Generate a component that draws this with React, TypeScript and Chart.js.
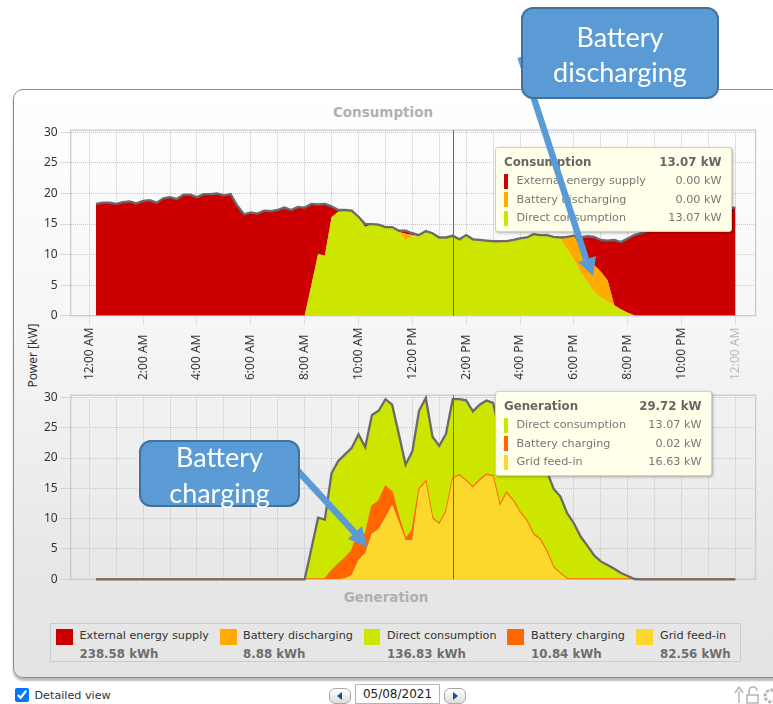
import React, { useEffect, useRef } from "react";
import { Chart, registerables } from "chart.js";

Chart.register(...registerables);

// Quarter-hour samples, 00:15 .. 24:00
const sampleHours = Array.from({ length: 96 }, (_, i) => 0.25 + i * 0.25);

const externalSupply = [
  18.3, 18.5, 18.5, 18.3, 18.6, 18.7, 18.4, 18.8, 18.9, 18.5, 19.2, 19.4, 19.1, 19.8, 19.8, 19.4,
  19.9, 19.9, 20.0, 19.7, 19.9, 18.0, 16.6, 16.9, 16.7, 17.2, 17.1, 17.3, 17.7, 17.3, 17.8, 17.7,
  13.3, 8.1, 8.5, 1.8, 0.3, 0.2, 0.2, 0.2, 0.5, 0, 0, 0.1, 0.1, 0.2, 0.5, 0.3,
  0.2, 0.1, 0.1, 0, 0, 0, 0, 0, 0, 0, 0.1, 0.2, 0.2, 0.1, 0.1, 0.05,
  0, 0, 0, 0, 0, 0, 0, 0, 1.8, 3.9, 4.6, 5.2, 6.5, 10.7, 11.05, 12.15,
  13.15, 13.5, 14.0, 14.5, 15.0, 15.4, 15.8, 16.1, 16.4, 16.6, 16.9, 17.1, 17.3, 17.4, 17.6, 17.7,
];
const batteryDischarging = [
  0, 0, 0, 0, 0, 0, 0, 0, 0, 0, 0, 0, 0, 0, 0, 0,
  0, 0, 0, 0, 0, 0, 0, 0, 0, 0, 0, 0, 0, 0, 0, 0,
  0, 0, 0, 0, 0, 0, 0, 0, 0, 0, 0, 0, 0, 0, 1.1, 0.2,
  0.1, 0, 0, 0, 0, 0, 0, 0, 0, 0, 0, 0, 0, 0, 0, 0,
  0, 0, 0, 0, 0, 0.15, 2.1, 3.9, 4.0, 3.6, 4.4, 4.3, 3.5, 0, 0, 0,
  0, 0, 0, 0, 0, 0, 0, 0, 0, 0, 0, 0, 0, 0, 0, 0,
];
const directConsumption = [
  0, 0, 0, 0, 0, 0, 0, 0, 0, 0, 0, 0, 0, 0, 0, 0,
  0, 0, 0, 0, 0, 0, 0, 0, 0, 0, 0, 0, 0, 0, 0, 0,
  5.0, 10.1, 9.8, 16.1, 17.0, 17.1, 17.0, 16.0, 14.5, 15.0, 14.9, 14.4, 14.4, 13.7, 12.3, 13.0,
  12.9, 13.75, 13.4, 12.8, 12.8, 13.07, 12.5, 13.2, 12.5, 12.4, 12.2, 12.0, 12.0, 12.1, 12.3, 12.6,
  12.8, 13.35, 13.2, 13.2, 12.9, 12.65, 10.8, 9.2, 7.0, 5.5, 3.9, 2.9, 2.3, 1.7, 1.0, 0.5,
  0.05, 0, 0, 0, 0, 0, 0, 0, 0, 0, 0, 0, 0, 0, 0, 0,
];
const batteryCharging = [
  0, 0, 0, 0, 0, 0, 0, 0, 0, 0, 0, 0, 0, 0, 0, 0,
  0, 0, 0, 0, 0, 0, 0, 0, 0, 0, 0, 0, 0, 0, 0, 0,
  0.05, 0.05, 0.05, 1.4, 2.5, 3.35, 4.0, 4.7, 3.0, 4.6, 4.6, 5.1, 2.1, 0.8, 0.1, 1.7,
  0.1, 0.1, 0.1, 0.1, 0.1, 0.02, 0.1, 0.1, 0.1, 0.1, 0.1, 0.1, 0.1, 0.1, 0.1, 0.1,
  0.1, 0.1, 0.1, 0.1, 0.1, 0.1, 0.05, 0.05, 0.05, 0.05, 0.05, 0.05, 0.05, 0.05, 0.05, 0.05,
  0, 0, 0, 0, 0, 0, 0, 0, 0, 0, 0, 0, 0, 0, 0, 0,
];
const gridFeedIn = [
  0, 0, 0, 0, 0, 0, 0, 0, 0, 0, 0, 0, 0, 0, 0, 0,
  0, 0, 0, 0, 0, 0, 0, 0, 0, 0, 0, 0, 0, 0, 0, 0,
  0, 0, 0, 0, 0, 0.15, 0.7, 3.2, 4.3, 7.5, 8.3, 10.2, 12.3, 9.4, 6.5, 6.4,
  14.8, 16.05, 10.0, 9.1, 11.1, 16.63, 17.1, 16.2, 15.1, 16.3, 17.2, 17.0, 12.1, 14.2, 12.9, 11.0,
  9.6, 7.4, 6.5, 4.5, 1.9, 0.9, 0.05, 0, 0, 0, 0, 0, 0, 0, 0, 0,
  0, 0, 0, 0, 0, 0, 0, 0, 0, 0, 0, 0, 0, 0, 0, 0,
];

const tickHours = [0, 2, 4, 6, 8, 10, 12, 14, 16, 18, 20, 22, 24];
const tickLabels = [
  "12:00 AM", "2:00 AM", "4:00 AM", "6:00 AM", "8:00 AM", "10:00 AM", "12:00 PM",
  "2:00 PM", "4:00 PM", "6:00 PM", "8:00 PM", "10:00 PM", "12:00 AM",
];
const gridHours = Array.from({ length: 25 }, (_, i) => i);
const powerTicks = [0, 5, 10, 15, 20, 25, 30];
const cursorIndex = 53;

const legendNames = [
  "External energy supply", "Battery discharging", "Direct consumption", "Battery charging", "Grid feed-in",
];
const legendEnergy = ["238.58 kWh", "8.88 kWh", "136.83 kWh", "10.84 kWh", "82.56 kWh"];

const RED = "#cc0000";
const AMBER = "#ffab00";
const LIME = "#cce600";
const ORANGE = "#ff6600";
const YELLOW = "#fdd82c";
const legendColors = [RED, AMBER, LIME, ORANGE, YELLOW];
const legendSwatchX = [56, 220, 363.5, 507, 636];
const legendTextX = [79.5, 243, 387, 531, 660];

const FONT = '"Noto Sans", sans-serif';
const PANEL_FONT = '"DejaVu Sans", sans-serif';
const LINE = "#6a6a6a";
const FRAME = "#c3cdd6";

const sumOf = (a: number[], b: number[], c: number[]) => a.map((v, i) => +(v + b[i] + c[i]).toFixed(2));

const framePlugin = {
  id: "frameAndCursor",
  beforeDatasetsDraw(chart: any) {
    const { ctx, chartArea: a } = chart;
    ctx.save();
    ctx.strokeStyle = FRAME;
    ctx.lineWidth = 1.3;
    ctx.strokeRect(a.left, a.top, a.right - a.left, a.bottom - a.top);
    ctx.restore();
  },
  afterDraw(chart: any) {
    const { ctx, chartArea: a, scales } = chart;
    ctx.save();
    const x = scales.x.getPixelForValue(sampleHours[cursorIndex]);
    ctx.strokeStyle = "#666";
    ctx.lineWidth = 1;
    ctx.beginPath();
    ctx.moveTo(Math.round(x) + 0.5, a.top);
    ctx.lineTo(Math.round(x) + 0.5, a.bottom);
    ctx.stroke();
    ctx.restore();
  },
};

function area(label: string, data: number[], color: string, fill: string, extra: any = {}) {
  return {
    label,
    data,
    stack: "parts",
    backgroundColor: color,
    borderColor: color,
    borderWidth: 0,
    pointRadius: 0,
    tension: 0,
    fill,
    ...extra,
  };
}

function outline(label: string, data: number[]) {
  return {
    label,
    data,
    stack: "total",
    order: -1,
    borderColor: LINE,
    borderWidth: 2.3,
    pointRadius: 0,
    tension: 0,
    fill: false,
    clip: 3,
  };
}

function makeOptions(withLabels: boolean, padTop: number, xHeight: number): any {
  return {
    animation: false,
    responsive: false,
    events: [],
    layout: { autoPadding: false, padding: { top: padTop, right: 17.4, left: 0, bottom: 0 } },
    plugins: { legend: { display: false }, tooltip: { enabled: false }, title: { display: false } },
    scales: {
      x: {
        type: "linear",
        min: -0.69,
        max: 24.75,
        afterFit: (s: any) => { s.height = xHeight; },
        afterBuildTicks: (s: any) => { s.ticks = gridHours.map((value) => ({ value })); },
        grid: {
          color: "#c6c6c6",
          lineWidth: 1,
          tickColor: (c: any) => (withLabels && tickHours.includes(c.tick?.value) ? "#c6cacd" : "transparent"),
          tickLength: withLabels ? 9 : 0,
          drawTicks: withLabels,
          tickBorderDash: [1, 1],
        },
        border: { display: false, dash: [1, 1] },
        ticks: {
          display: withLabels,
          autoSkip: false,
          maxRotation: 90,
          minRotation: 90,
          padding: 3,
          font: { family: FONT, size: 12 },
          color: (c: any) => (c.tick?.value === 24 ? "#b9b9b9" : "#333"),
          callback: (v: number) => {
            const i = tickHours.indexOf(v);
            if (i < 0) return "";
            const t = tickLabels[i];
            return t.length < 8 ? t + "\u2007" : t;
          },
        },
      },
      y: {
        stacked: true,
        min: 0,
        max: 30.36,
        afterFit: (s: any) => { s.width = 70.7; },
        afterBuildTicks: (s: any) => { s.ticks = powerTicks.map((value) => ({ value })); },
        grid: {
          color: "#c6c6c6",
          tickColor: "#b5babe",
          tickLength: 10,
          tickBorderDash: [1, 1],
        },
        border: { display: false, dash: [1, 1] },
        ticks: { padding: 3, font: { family: FONT, size: 12 }, color: "#333" },
      },
    },
  };
}

function Tip({ left, top, width, height, title, rows }: any) {
  const total = rows.reduce((s: number, r: any) => s + r.value, 0);
  const rowStyle: any = { position: "absolute", left: 8, right: 9.5, height: 16, lineHeight: "16px", whiteSpace: "nowrap" };
  return (
    <div
      style={{
        position: "absolute", left, top, width, height, boxSizing: "border-box",
        background: "#ffffea", border: "1px solid #d3d3c4", borderRadius: 3,
        boxShadow: "1px 1px 3px rgba(0,0,0,0.3)", fontFamily: PANEL_FONT, fontSize: 11.2, color: "#777",
      }}
    >
      <div style={{ ...rowStyle, top: 6, fontWeight: 700, color: "#666", fontSize: 11.8, display: "flex", justifyContent: "space-between" }}>
        <span>{title}</span>
        <span>{total.toFixed(2)} kW</span>
      </div>
      {rows.map((r: any, i: number) => (
        <div key={r.name} style={{ ...rowStyle, top: 25 + i * 18.7, display: "flex", justifyContent: "space-between" }}>
          <span style={{ position: "absolute", left: 0, top: 0.5, width: 3.5, height: 15, background: r.color }} />
          <span style={{ marginLeft: 12.5 }}>{r.name}</span>
          <span>{r.value.toFixed(2)} kW</span>
        </div>
      ))}
    </div>
  );
}

function Callout({ left, top, width, height, lines }: any) {
  return (
    <div
      style={{
        position: "absolute", left, top, width, height, boxSizing: "border-box",
        background: "#5b9bd5", border: "2px solid #41719c", borderRadius: 12,
        color: "#fff", fontFamily: "Lato, sans-serif", fontSize: 27, lineHeight: "35.5px",
        textAlign: "center", display: "flex", flexDirection: "column", justifyContent: "center",
      }}
    >
      {lines.map((l: string) => <div key={l} style={{ height: 35.5, flex: "none", position: "relative", top: 1 }}>{l}</div>)}
    </div>
  );
}

function PagerButton({ left, dir }: any) {
  return (
    <div
      style={{
        position: "absolute", left, top: 688, width: 22, height: 16, boxSizing: "border-box",
        border: "1px solid #a9a9a9", borderRadius: 6, background: "linear-gradient(#fff,#ddd)",
      }}
    >
      <svg width="20" height="14" style={{ position: "absolute", left: 0, top: 0 }}>
        <path d={dir < 0 ? "M7 7 L12 3 L12 11 Z" : "M13 7 L8 3 L8 11 Z"} fill="#17508f" />
      </svg>
    </div>
  );
}

export default function App() {
  const topRef = useRef<HTMLCanvasElement>(null);
  const bottomRef = useRef<HTMLCanvasElement>(null);

  useEffect(() => {
    const consumption = new Chart(topRef.current as any, {
      type: "line",
      data: {
        labels: sampleHours,
        datasets: [
          area("Direct consumption", directConsumption, LIME, "origin"),
          area("Battery discharging", batteryDischarging, AMBER, "-1"),
          area("External energy supply", externalSupply, RED, "-1"),
          outline("Consumption", sumOf(directConsumption, batteryDischarging, externalSupply)),
        ],
      } as any,
      options: makeOptions(true, 10, 79.3),
      plugins: [framePlugin],
    } as any);
    const generation = new Chart(bottomRef.current as any, {
      type: "line",
      data: {
        labels: sampleHours,
        datasets: [
          area("Grid feed-in", gridFeedIn, YELLOW, "origin"),
          area("Battery charging", batteryCharging, ORANGE, "-1", { borderWidth: 1.5 }),
          area("Direct consumption", directConsumption, LIME, "-1"),
          outline("Generation", sumOf(gridFeedIn, batteryCharging, directConsumption)),
        ],
      } as any,
      options: makeOptions(false, 9.3, 15.7),
      plugins: [framePlugin],
    } as any);
    return () => {
      consumption.destroy();
      generation.destroy();
    };
  }, []);

  return (
    <div style={{ position: "fixed", left: 0, top: 0, width: 773, height: 704, overflow: "hidden", background: "#fff", fontFamily: PANEL_FONT }}>
      {/* panel */}
      <div
        style={{
          position: "absolute", left: 12.5, top: 88.5, width: 820, height: 589, boxSizing: "border-box",
          border: "1.5px solid #8a8a8a", borderRadius: 10,
          background: "linear-gradient(#ffffff 0%, #f6f6f6 40%, #e6e6e6 85%, #e4e4e4 100%)",
          boxShadow: "0 3px 2px #bdbdbd",
        }}
      />
      <div style={{ position: "absolute", left: 283, top: 104, width: 200, textAlign: "center", fontSize: 13.5, fontWeight: 700, color: "#b0b0b0" }}>Consumption</div>
      <div style={{ position: "absolute", left: 286, top: 589, width: 200, textAlign: "center", fontSize: 13.5, fontWeight: 700, color: "#b0b0b0" }}>Generation</div>
      <div style={{ position: "absolute", left: -8, top: 347, width: 80, textAlign: "center", transform: "rotate(-90deg)", fontFamily: FONT, fontSize: 12, color: "#333", whiteSpace: "nowrap" }}>Power [kW]</div>

      <canvas ref={topRef} width={773} height={275} style={{ position: "absolute", left: 0, top: 120 }} />
      <canvas ref={bottomRef} width={773} height={210} style={{ position: "absolute", left: 0, top: 385 }} />

      <Tip
        left={495} top={147} width={237} height={85} title="Consumption"
        rows={[
          { name: legendNames[0], color: RED, value: externalSupply[cursorIndex] },
          { name: legendNames[1], color: AMBER, value: batteryDischarging[cursorIndex] },
          { name: legendNames[2], color: LIME, value: directConsumption[cursorIndex] },
        ]}
      />
      <Tip
        left={495} top={391} width={217} height={85} title="Generation"
        rows={[
          { name: legendNames[2], color: LIME, value: directConsumption[cursorIndex] },
          { name: legendNames[3], color: ORANGE, value: batteryCharging[cursorIndex] },
          { name: legendNames[4], color: YELLOW, value: gridFeedIn[cursorIndex] },
        ]}
      />

      {/* legend */}
      <div style={{ position: "absolute", left: 50, top: 623, width: 691, height: 39, boxSizing: "border-box", border: "1px solid #c3cdd6", background: "#e6e6e6" }} />
      {legendNames.map((name, i) => (
        <React.Fragment key={name}>
          <div style={{ position: "absolute", left: legendSwatchX[i], top: 629, width: 16.5, height: 16, background: legendColors[i] }} />
          <div style={{ position: "absolute", left: legendTextX[i], top: 628, fontSize: 11.2, lineHeight: "16px", color: "#333", whiteSpace: "nowrap" }}>{name}</div>
          <div style={{ position: "absolute", left: legendTextX[i], top: 646, fontSize: 11.8, fontWeight: 700, lineHeight: "16px", color: "#6e6e6e", whiteSpace: "nowrap" }}>{legendEnergy[i]}</div>
        </React.Fragment>
      ))}

      {/* footer */}
      <input type="checkbox" defaultChecked style={{ position: "absolute", left: 15, top: 688, width: 14, height: 14, margin: 0 }} />
      <div style={{ position: "absolute", left: 34.5, top: 688, fontSize: 11.2, lineHeight: "16px", color: "#333" }}>Detailed view</div>
      <PagerButton left={329} dir={-1} />
      <div style={{ position: "absolute", left: 355, top: 684, width: 85, height: 20, boxSizing: "border-box", border: "1px solid #b5b5b5", background: "#fff", textAlign: "center", fontSize: 12, lineHeight: "18px", color: "#222" }}>05/08/2021</div>
      <PagerButton left={444} dir={1} />
      <svg width="40" height="20" style={{ position: "absolute", left: 733, top: 685 }} fill="none" stroke="#b5b5b5" strokeWidth="1.5">
        <path d="M6 18 V6 M2 8 L6 2 L10 8" />
        <path d="M16 10 V6 Q16 2 20 2 Q24 2 24 6 M14 10 H25 V18 H14 Z" />
        <circle cx="38" cy="11" r="6" strokeWidth="3" strokeDasharray="3 1.5" />
      </svg>

      {/* callouts */}
      <svg width="773" height="704" style={{ position: "absolute", left: 0, top: 0, pointerEvents: "none" }}>
        <line x1="520.5" y1="57" x2="586" y2="259" stroke="#5b9bd5" strokeWidth="6.5" />
        <path d="M593 276 L578 262 L596 256 Z" fill="#5b9bd5" />
        <line x1="298" y1="471" x2="356" y2="534" stroke="#5b9bd5" strokeWidth="6.5" />
        <path d="M367 547 L348 539 L362 526 Z" fill="#5b9bd5" />
      </svg>
      <Callout left={521} top={7} width={198} height={92} lines={["Battery", "discharging"]} />
      <Callout left={139} top={440} width={161} height={67} lines={["Battery", "charging"]} />
    </div>
  );
}
